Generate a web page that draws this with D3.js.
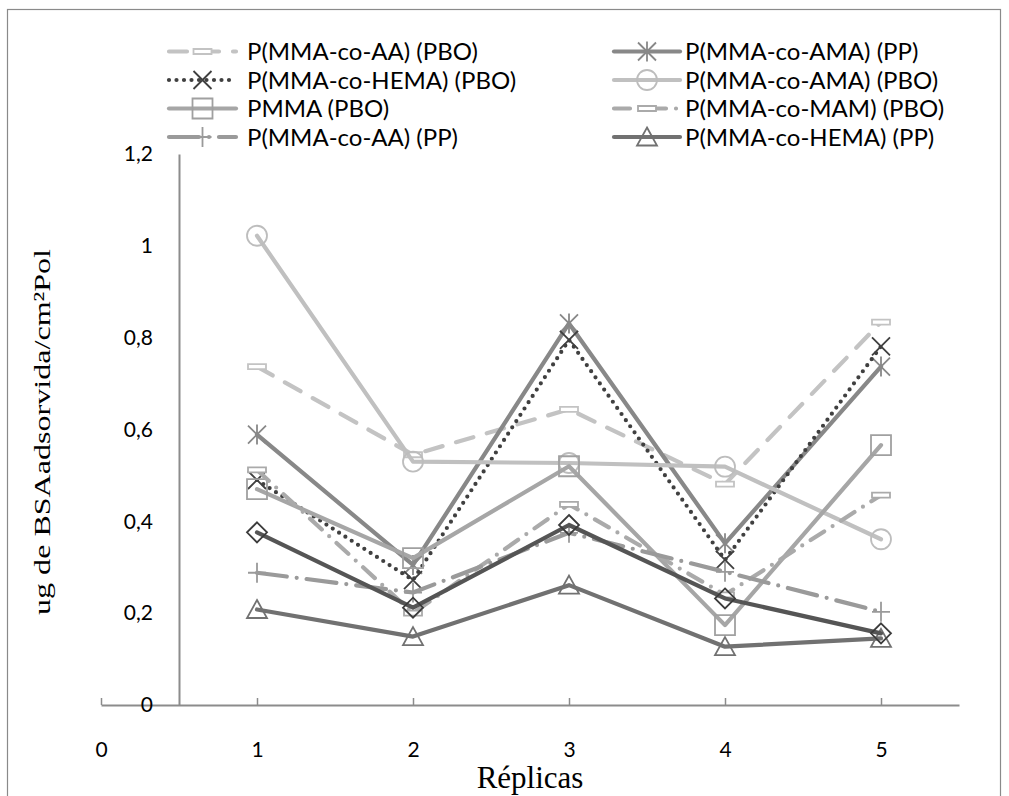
<!DOCTYPE html>
<html><head><meta charset="utf-8">
<script src="https://cdn.jsdelivr.net/npm/d3@7"></script>
<style>body{margin:0;background:#fff}svg{display:block}</style>
</head><body><svg id="c" width="1009" height="796"></svg>
<script>
// ---- data ----
const replicas = [1, 2, 3, 4, 5];
const xTicks = [0, 1, 2, 3, 4, 5];
const yTicks = [0, 0.2, 0.4, 0.6, 0.8, 1, 1.2];
const seriesNames = [
  "P(MMA-co-AA) (PBO)", "P(MMA-co-AMA) (PP)", "P(MMA-co-HEMA) (PBO)", "P(MMA-co-AMA) (PBO)",
  "PMMA (PBO)", "P(MMA-co-MAM) (PBO)", "P(MMA-co-AA) (PP)", "P(MMA-co-HEMA) (PP)", ""
];
const aaPBO   = [0.737, 0.545, 0.644, 0.481, 0.834];
const amaPP   = [0.589, 0.305, 0.831, 0.352, 0.737];
const hemaPBO = [0.490, 0.272, 0.795, 0.316, 0.781];
const amaPBO  = [1.022, 0.530, 0.527, 0.519, 0.361];
const pmmaPBO = [0.470, 0.320, 0.520, 0.174, 0.566];
const mamPBO  = [0.512, 0.200, 0.437, 0.240, 0.457];
const aaPP    = [0.288, 0.245, 0.375, 0.290, 0.203];
const hemaPP  = [0.208, 0.149, 0.261, 0.127, 0.145];
const extraPP = [0.376, 0.212, 0.392, 0.232, 0.156];
const seriesValues = [aaPBO, amaPP, hemaPBO, amaPBO, pmmaPBO, mamPBO, aaPP, hemaPP, extraPP];

// ---- styles ----
const styles = [
  {color: "#c3c3c3", dash: "18,14", marker: "dash", mcolor: "#c3c3c3"},
  {color: "#888888", dash: null, marker: "star", mcolor: "#888888"},
  {color: "#404040", dash: "0,7.5", marker: "x", mcolor: "#404040"},
  {color: "#c0c0c0", dash: null, marker: "circle", mcolor: "#bdbdbd"},
  {color: "#a6a6a6", dash: null, marker: "square", mcolor: "#a0a0a0"},
  {color: "#aaaaaa", dash: "16,10,0,10", marker: "dash", mcolor: "#aaaaaa"},
  {color: "#9a9a9a", dash: "30,10,0,10", marker: "plus", mcolor: "#9a9a9a"},
  {color: "#717171", dash: null, marker: "triangle", mcolor: "#717171"},
  {color: "#555555", dash: null, marker: "diamond", mcolor: "#3c3c3c"}
];

function markerPath(t) {
  switch (t) {
    case "circle": return "M10,0A10,10 0 1,1 -10,0A10,10 0 1,1 10,0Z";
    case "square": return "M-10,-10H10V10H-10Z";
    case "triangle": return "M0,-9.5L10,8.5H-10Z";
    case "diamond": return "M0,-10L10,0L0,10L-10,0Z";
    case "x": return "M-9,-9L9,9M9,-9L-9,9";
    case "star": return "M-9,-9L9,9M9,-9L-9,9M0,-10V10";
    case "plus": return "M-9,0H9M0,-10V10";
    case "dash": return "M-9,-2.5H9V2.5H-9Z";
  }
}

const svg = d3.select("#c");
const fontSans = "Lato, 'Open Sans', sans-serif";
const fontSerif = "'Liberation Serif', 'DejaVu Serif', serif";

// outer frame
svg.append("rect").attr("x", 7.5).attr("y", 9.5).attr("width", 993).attr("height", 800)
  .attr("fill", "none").attr("stroke", "#8a8a8a").attr("stroke-width", 1.2);

const x = d3.scaleLinear().domain([0, 5.5]).range([101, 959]);
const y = d3.scaleLinear().domain([0, 1.2]).range([705, 154]);

const locale = d3.formatLocale({decimal: ",", thousands: ".", grouping: [3], currency: ["", ""]});
const fmt = locale.format("~g");

// x axis
const gx = svg.append("g").attr("transform", `translate(0,${y(0)})`)
  .call(d3.axisBottom(x).tickValues(xTicks).tickSize(-7).tickSizeOuter(0).tickPadding(37).tickFormat(fmt));
gx.select(".domain").attr("stroke", "#8c8c8c").attr("stroke-width", 2);
gx.selectAll(".tick line").attr("stroke", "#8c8c8c").attr("stroke-width", 1.5);
gx.selectAll(".tick text").attr("font-family", fontSans).attr("font-size", 21).attr("fill", "#000");

// y axis
const gy = svg.append("g").attr("transform", `translate(${x(0.5)},0)`)
  .call(d3.axisLeft(y).tickValues(yTicks).tickSize(0).tickSizeOuter(0).tickPadding(26).tickFormat(fmt));
gy.select(".domain").attr("stroke", "#8c8c8c").attr("stroke-width", 2);
gy.selectAll(".tick text").attr("font-family", fontSans).attr("font-size", 21).attr("fill", "#000");

// axis titles
svg.append("text").attr("transform", `translate(50,432) rotate(-90)`)
  .attr("text-anchor", "middle").attr("font-family", fontSerif).attr("font-size", 23)
  .attr("textLength", 366).attr("lengthAdjust", "spacingAndGlyphs")
  .text("ug de BSAadsorvida/cm²Pol");
svg.append("text").attr("x", 530).attr("y", 788).attr("text-anchor", "middle")
  .attr("font-family", fontSerif).attr("font-size", 31).text("Réplicas");

// series
const line = d3.line().x((d, i) => x(replicas[i])).y(d => y(d));
seriesValues.forEach((vals, si) => {
  const st = styles[si];
  const g = svg.append("g");
  g.append("path").attr("d", line(vals)).attr("fill", "none")
    .attr("stroke", st.color).attr("stroke-width", 4.2)
    .attr("stroke-linecap", "round").attr("stroke-linejoin", "round")
    .attr("stroke-dasharray", st.dash);
  g.selectAll("path.m").data(vals).join("path").attr("class", "m")
    .attr("transform", (d, i) => `translate(${x(replicas[i])},${y(d)})`)
    .attr("d", markerPath(st.marker))
    .attr("fill", st.marker === "dash" ? "#fff" : "none")
    .attr("stroke", st.mcolor).attr("stroke-width", 1.8);
});

// legend
const legendRows = [51.5, 80, 108.5, 137];
seriesNames.forEach((name, si) => {
  if (!name) return;
  const st = styles[si];
  const col = si % 2, row = Math.floor(si / 2);
  const x0 = col === 0 ? 167 : 612, x1 = col === 0 ? 238 : 682, tx = col === 0 ? 247 : 685;
  const yy = legendRows[row];
  const g = svg.append("g");
  g.append("line").attr("x1", x0 + 2).attr("x2", x1 - 2).attr("y1", yy).attr("y2", yy)
    .attr("stroke", st.color).attr("stroke-width", 4.2).attr("stroke-linecap", "round")
    .attr("stroke-dasharray", st.dash);
  g.append("path").attr("transform", `translate(${(x0 + x1) / 2},${yy})`)
    .attr("d", markerPath(st.marker))
    .attr("fill", st.marker === "dash" ? "#fff" : "none")
    .attr("stroke", st.mcolor).attr("stroke-width", 1.8);
  g.append("text").attr("x", tx).attr("y", yy).attr("dy", "0.36em")
    .attr("font-family", fontSans).attr("font-size", 24).attr("fill", "#000").text(name);
});
</script></body></html>
